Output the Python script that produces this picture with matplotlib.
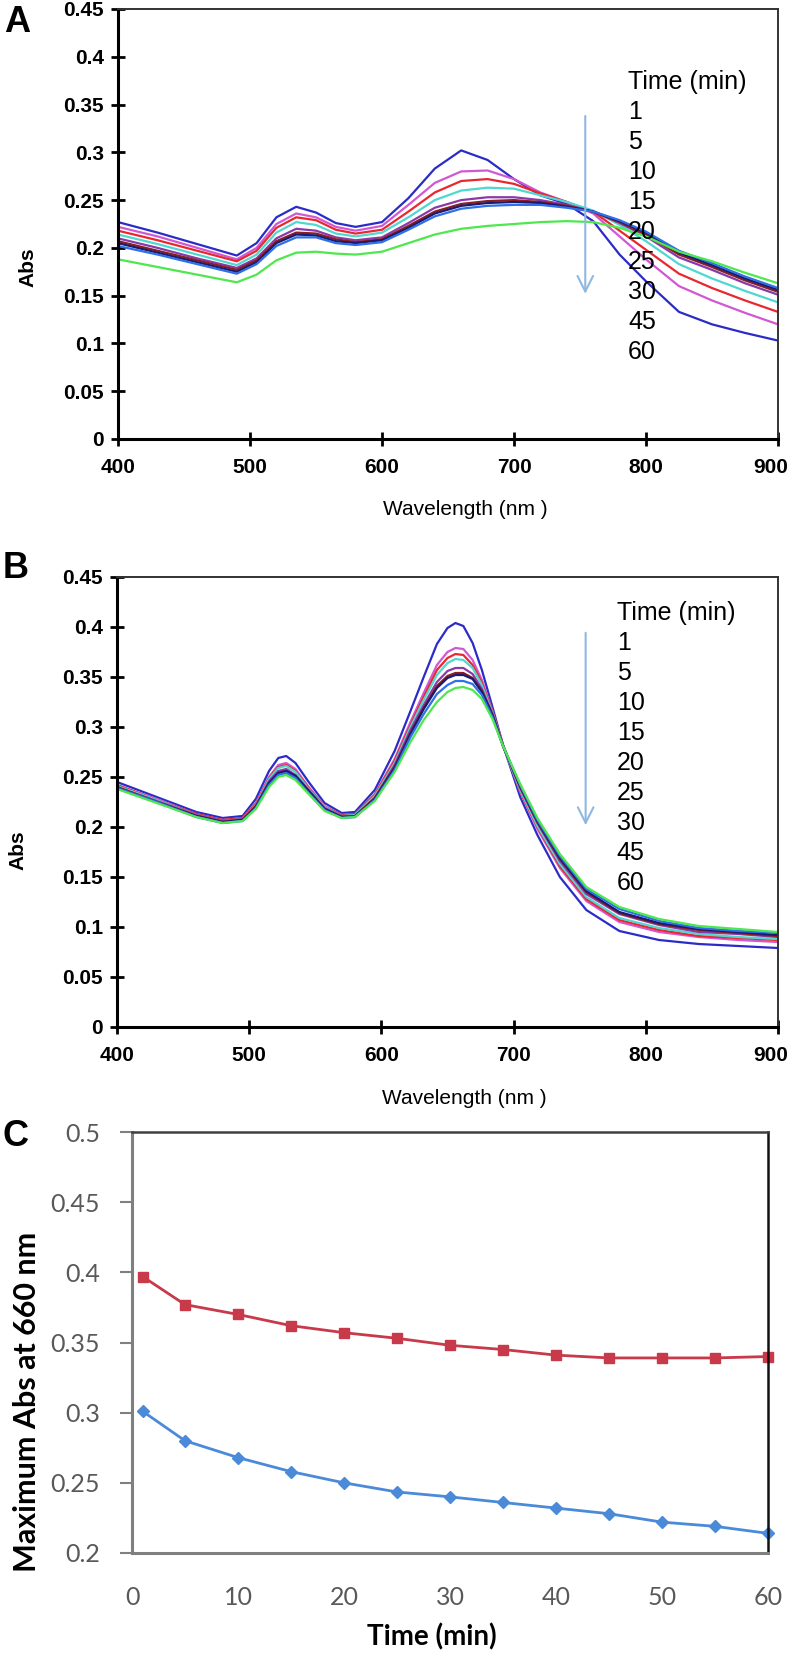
import matplotlib.pyplot as plt
import numpy as np
from matplotlib.transforms import ScaledTranslation

# --- Dados ---
tempos = ['1', '5', '10', '15', '20', '25', '30', '45', '60']
cores = ['#2b2bc8', '#d257d2', '#e8282e', '#4fd8d0', '#8a3aa8',
         '#8b1e1e', '#1a1a6e', '#2f6fe8', '#4ee84e']

# Painel A
wl_a = [400, 430, 460, 490, 505, 520, 535, 550, 565, 580, 600, 620, 640,
        660, 680, 700, 720, 740, 760, 780, 800, 825, 850, 875, 900]
a_t1 = [.227, .216, .204, .192, .205, .232, .243, .237, .226, .222, .227, .252, .283,
        .302, .292, .272, .255, .246, .228, .193, .165, .133, .120, .111, .103]
a_t5 = [.222, .212, .200, .188, .200, .225, .236, .232, .222, .218, .223, .245, .268,
        .280, .281, .272, .258, .248, .236, .212, .188, .160, .145, .132, .120]
a_t10 = [.218, .208, .197, .186, .197, .221, .232, .229, .219, .215, .219, .238, .258,
         .270, .272, .267, .257, .248, .238, .218, .198, .173, .158, .145, .133]
a_t15 = [.214, .204, .193, .182, .193, .216, .227, .224, .215, .212, .216, .232, .250,
         .260, .263, .262, .255, .248, .239, .224, .207, .183, .168, .155, .143]
a_t20 = [.210, .200, .189, .179, .189, .210, .220, .218, .211, .208, .211, .226, .242,
         .250, .253, .253, .250, .245, .238, .226, .212, .190, .177, .163, .151]
a_t25 = [.207, .197, .187, .177, .187, .207, .216, .215, .209, .206, .209, .223, .238,
         .246, .249, .250, .248, .244, .238, .227, .214, .193, .180, .166, .154]
a_t30 = [.205, .195, .185, .175, .185, .205, .214, .213, .207, .205, .208, .221, .236,
         .244, .247, .248, .247, .243, .238, .228, .216, .195, .182, .168, .156]
a_t45 = [.202, .193, .183, .173, .183, .202, .211, .211, .205, .203, .206, .219, .233,
         .241, .244, .245, .245, .242, .238, .229, .217, .197, .184, .170, .158]
a_t60 = [.188, .180, .172, .164, .172, .187, .195, .196, .194, .193, .196, .205, .214,
         .220, .223, .225, .227, .228, .227, .221, .212, .196, .186, .174, .163]

# Painel B
wl_b = [400, 430, 460, 480, 495, 505, 515, 522, 528, 535, 545, 557, 570, 580, 595,
        610, 622, 632, 642, 650, 656, 662, 669, 676, 684, 692, 705, 718, 735, 755,
        780, 810, 840, 870, 900]
b_t1 = [.245, .230, .215, .209, .211, .228, .256, .269, .271, .264, .245, .224, .214, .215, .237,
        .276, .316, .350, .383, .399, .404, .401, .384, .357, .320, .282, .230, .192, .150, .117,
        .096, .087, .083, .081, .079]
b_t5 = [.242, .228, .213, .207, .209, .224, .250, .262, .264, .258, .240, .221, .212, .213, .233,
        .268, .305, .334, .362, .375, .379, .378, .367, .347, .316, .282, .235, .198, .159, .126,
        .105, .095, .090, .087, .085]
b_t10 = [.242, .227, .213, .207, .209, .223, .249, .260, .262, .256, .239, .220, .212, .213, .232,
         .266, .302, .330, .357, .369, .373, .372, .362, .344, .315, .282, .236, .200, .161, .128,
         .107, .097, .091, .089, .087]
b_t15 = [.241, .227, .212, .206, .208, .222, .248, .259, .261, .255, .238, .220, .211, .212, .231,
         .264, .300, .327, .352, .364, .368, .367, .359, .342, .314, .281, .237, .201, .163, .130,
         .109, .099, .093, .090, .088]
b_t20 = [.240, .226, .212, .206, .208, .221, .246, .256, .258, .252, .237, .219, .211, .211, .229,
         .262, .297, .322, .345, .356, .359, .359, .353, .338, .313, .281, .239, .204, .166, .133,
         .113, .102, .095, .093, .090]
b_t25 = [.240, .225, .211, .205, .207, .221, .244, .254, .256, .251, .236, .218, .210, .211, .229,
         .260, .294, .319, .341, .351, .354, .354, .349, .336, .312, .281, .240, .205, .168, .135,
         .114, .103, .097, .094, .091]
b_t30 = [.239, .225, .211, .205, .207, .220, .244, .254, .256, .251, .236, .218, .210, .210, .228,
         .259, .293, .318, .339, .349, .352, .352, .348, .335, .312, .281, .241, .206, .169, .136,
         .115, .104, .098, .095, .092]
b_t45 = [.239, .225, .210, .204, .206, .219, .242, .252, .254, .249, .234, .217, .209, .210, .227,
         .257, .290, .313, .333, .342, .346, .346, .343, .332, .310, .281, .242, .207, .171, .138,
         .118, .106, .099, .096, .094]
b_t60 = [.238, .224, .210, .204, .206, .218, .240, .250, .252, .247, .233, .216, .209, .210, .226,
         .255, .285, .307, .325, .335, .339, .340, .337, .328, .308, .281, .243, .209, .173, .140,
         .120, .108, .101, .098, .095]

# Painel C
tempo_c = [1, 5, 10, 15, 20, 25, 30, 35, 40, 45, 50, 55, 60]
abs_max_b = [.397, .377, .370, .362, .357, .353, .348, .345, .341, .339, .339, .339, .340]
abs_max_a = [.301, .280, .268, .258, .250, .2435, .240, .236, .232, .228, .222, .219, .214]
ticks_x_c = [0, 10, 20, 30, 40, 50, 60]

series_a = [a_t1, a_t5, a_t10, a_t15, a_t20, a_t25, a_t30, a_t45, a_t60]
series_b = [b_t1, b_t5, b_t10, b_t15, b_t20, b_t25, b_t30, b_t45, b_t60]

W, H = 792, 1654
fig = plt.figure(figsize=(W / 100, H / 100), dpi=100)


def eixo_px(left, top, right, bottom):
    # cria eixo a partir de coordenadas em pixels
    return fig.add_axes([left / W, 1 - bottom / H, (right - left) / W, (bottom - top) / H])


def painel_espectro(ax, wl, series, leg_x, leg_y0, leg_dy, seta, lab_xy):
    for vals, cor in zip(series, cores):
        ax.plot(wl, vals, color=cor, lw=1.6)
    ax.set_xlim(400, 900)
    ax.set_ylim(0, 0.45)
    ax.set_xticks(np.arange(400, 901, 100))
    yt = np.round(np.arange(0, 0.451, 0.05), 2)
    ax.set_yticks(yt)
    ax.set_yticklabels([f'{v:g}' for v in yt])
    ax.tick_params(axis='y', direction='inout', length=10, width=2, pad=5)
    ax.tick_params(axis='x', direction='inout', length=10, width=2, pad=9)
    for lab in ax.get_xticklabels() + ax.get_yticklabels():
        lab.set_fontfamily('Liberation Sans')
        lab.set_fontweight('bold')
        lab.set_fontsize(15)
    # o rótulo 900 fica colado na borda; empurra um pouco para dentro
    ultimo = ax.get_xticklabels()[-1]
    ultimo.set_transform(ultimo.get_transform() + ScaledTranslation(-0.07, 0, fig.dpi_scale_trans))
    ax.spines['left'].set_linewidth(2.2)
    ax.spines['bottom'].set_linewidth(2.2)
    for s in ['top', 'right']:
        ax.spines[s].set_linewidth(1.4)
        ax.spines[s].set_color('#333333')
    ax.set_xlabel('Wavelength (nm )', fontsize=15, family='Liberation Sans', va='center')
    ax.xaxis.set_label_coords(0.526, lab_xy[2])
    ax.set_ylabel('Abs', fontsize=15, family='Liberation Sans', fontweight='bold', va='center')
    ax.yaxis.set_label_coords(lab_xy[0], lab_xy[1])
    # legenda em texto
    ax.text(leg_x, leg_y0, 'Time (min)', transform=ax.transAxes, fontsize=18,
            family='Liberation Sans', va='center', ha='left')
    for i, t in enumerate(tempos):
        ax.text(leg_x, leg_y0 - (i + 1) * leg_dy, t, transform=ax.transAxes, fontsize=18,
                family='Liberation Sans', va='center', ha='left')
    ax.annotate('', xy=(seta[0], seta[2]), xytext=(seta[0], seta[1]),
                arrowprops=dict(arrowstyle='->', color='#8fb8e0', lw=1.5, mutation_scale=28))


# --- Painel A ---
ax_a = eixo_px(118, 9, 778, 439)
painel_espectro(ax_a, wl_a, series_a, 0.773, 0.830, 30 / 430,
                (754, 0.341, 0.149), (-0.136, 0.40, -0.165))

# --- Painel B ---
ax_b = eixo_px(117, 577, 778, 1027)
painel_espectro(ax_b, wl_b, series_b, 0.756, 0.920, 30 / 450,
                (754.5, 0.397, 0.199), (-0.150, 0.393, -0.158))

# --- Painel C ---
ax_c = eixo_px(132, 1132, 768, 1553)
ax_c.plot(tempo_c, abs_max_b, color='#c8394a', lw=2, marker='s', markersize=7, clip_on=False)
ax_c.plot(tempo_c, abs_max_a, color='#4a8ad8', lw=2, marker='D', markersize=6, clip_on=False)
ax_c.set_xlim(0, 60)
ax_c.set_ylim(0.2, 0.5)
ax_c.set_xticks(ticks_x_c)
yt_c = np.round(np.arange(0.2, 0.501, 0.05), 2)
ax_c.set_yticks(yt_c)
ax_c.set_yticklabels([f'{v:g}' for v in yt_c])
ax_c.tick_params(axis='y', direction='out', length=9, width=1.5, color='#808080', pad=14)
ax_c.tick_params(axis='x', direction='out', length=0, pad=24)
for lab in ax_c.get_xticklabels() + ax_c.get_yticklabels():
    lab.set_fontfamily('Lato')
    lab.set_fontsize(18)
    lab.set_color('#595959')
ax_c.spines['left'].set_color('#7f7f7f')
ax_c.spines['bottom'].set_color('#7f7f7f')
ax_c.spines['left'].set_linewidth(2.2)
ax_c.spines['bottom'].set_linewidth(2.2)
ax_c.spines['top'].set_color('#404040')
ax_c.spines['top'].set_linewidth(1.8)
ax_c.spines['right'].set_color('#111111')
ax_c.spines['right'].set_linewidth(1.8)
ax_c.set_xlabel('Time (min)', fontsize=20, family='Lato', fontweight='bold', va='center')
ax_c.xaxis.set_label_coords(0.472, -0.2)
ax_c.set_ylabel('Maximum Abs at 660 nm', fontsize=22, family='Lato', fontweight='bold',
                va='center')
ax_c.yaxis.set_label_coords(-0.165, 0.36)

# Letras dos painéis
for letra, (px, py) in zip(['A', 'B', 'C'], [(17, 22), (16, 568), (16, 1136)]):
    fig.text(px / W, 1 - py / H, letra, fontsize=26, fontweight='bold',
             family='Liberation Sans', ha='center', va='center')

fig.savefig('out.png', dpi=100)
